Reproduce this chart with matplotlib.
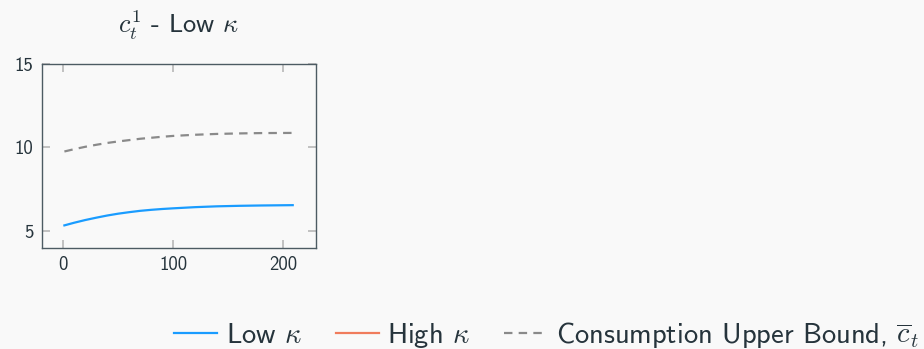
import numpy as np
import matplotlib.pyplot as plt

# periods and series
t = [1, 10, 20, 30, 40, 50, 60, 70, 80, 90, 100, 120, 140, 160, 180, 209]
c_low = [5.34, 5.50, 5.66, 5.80, 5.93, 6.04, 6.13, 6.21, 6.27, 6.32, 6.36,
         6.43, 6.48, 6.51, 6.53, 6.55]
c_bound = [9.76, 9.90, 10.04, 10.16, 10.27, 10.36, 10.44, 10.52, 10.58, 10.64,
           10.69, 10.76, 10.81, 10.84, 10.86, 10.87]
c_high = []  # not shown in this panel

xticks = [0, 100, 200]
yticks = [5, 10, 15]

bg = '#f9f9f9'
txt = '#26343c'

plt.rcParams['font.family'] = ['cmss10', 'DejaVu Sans']
plt.rcParams['mathtext.fontset'] = 'cm'
plt.rcParams['axes.unicode_minus'] = False
plt.rcParams['text.color'] = txt

fig = plt.figure(figsize=(9.24, 3.49), dpi=100, facecolor=bg)
ax = fig.add_axes([0.0451, 0.290, 0.297, 0.527], facecolor=bg)

l1, = ax.plot(t, c_low, color='#1a9cff', lw=1.6)
l2, = ax.plot(t[:len(c_high)], c_high, color='#f07c5c', lw=1.6)
l3, = ax.plot(t, c_bound, color='#8a8a8a', lw=1.6, dashes=(3.8, 2.8))

ax.set_xlim(-19.7, 230.3)
ax.set_ylim(4.0, 15.0)
ax.set_xticks(xticks)
ax.set_yticks(yticks)
ax.tick_params(direction='in', length=6, width=1.2, color='#b8b8b8',
               top=True, right=True, labelsize=13.5, labelcolor=txt, pad=6)
for s in ax.spines.values():
    s.set_color('#4d5b63')
    s.set_linewidth(1.0)

ax.set_title(r'$c_t^1$ - Low $\kappa$', fontsize=19, color=txt, pad=22)

fig.legend([l1, l2, l3],
           [r'Low $\kappa$', r'High $\kappa$', r'Consumption Upper Bound, $\overline{c}_t$'],
           loc='lower right', bbox_to_anchor=(1.022, -0.075), ncol=3, frameon=False,
           fontsize=20.5, handlelength=1.5, handletextpad=0.3, columnspacing=1.2)

fig.savefig('out.png', dpi=100, facecolor=bg)
